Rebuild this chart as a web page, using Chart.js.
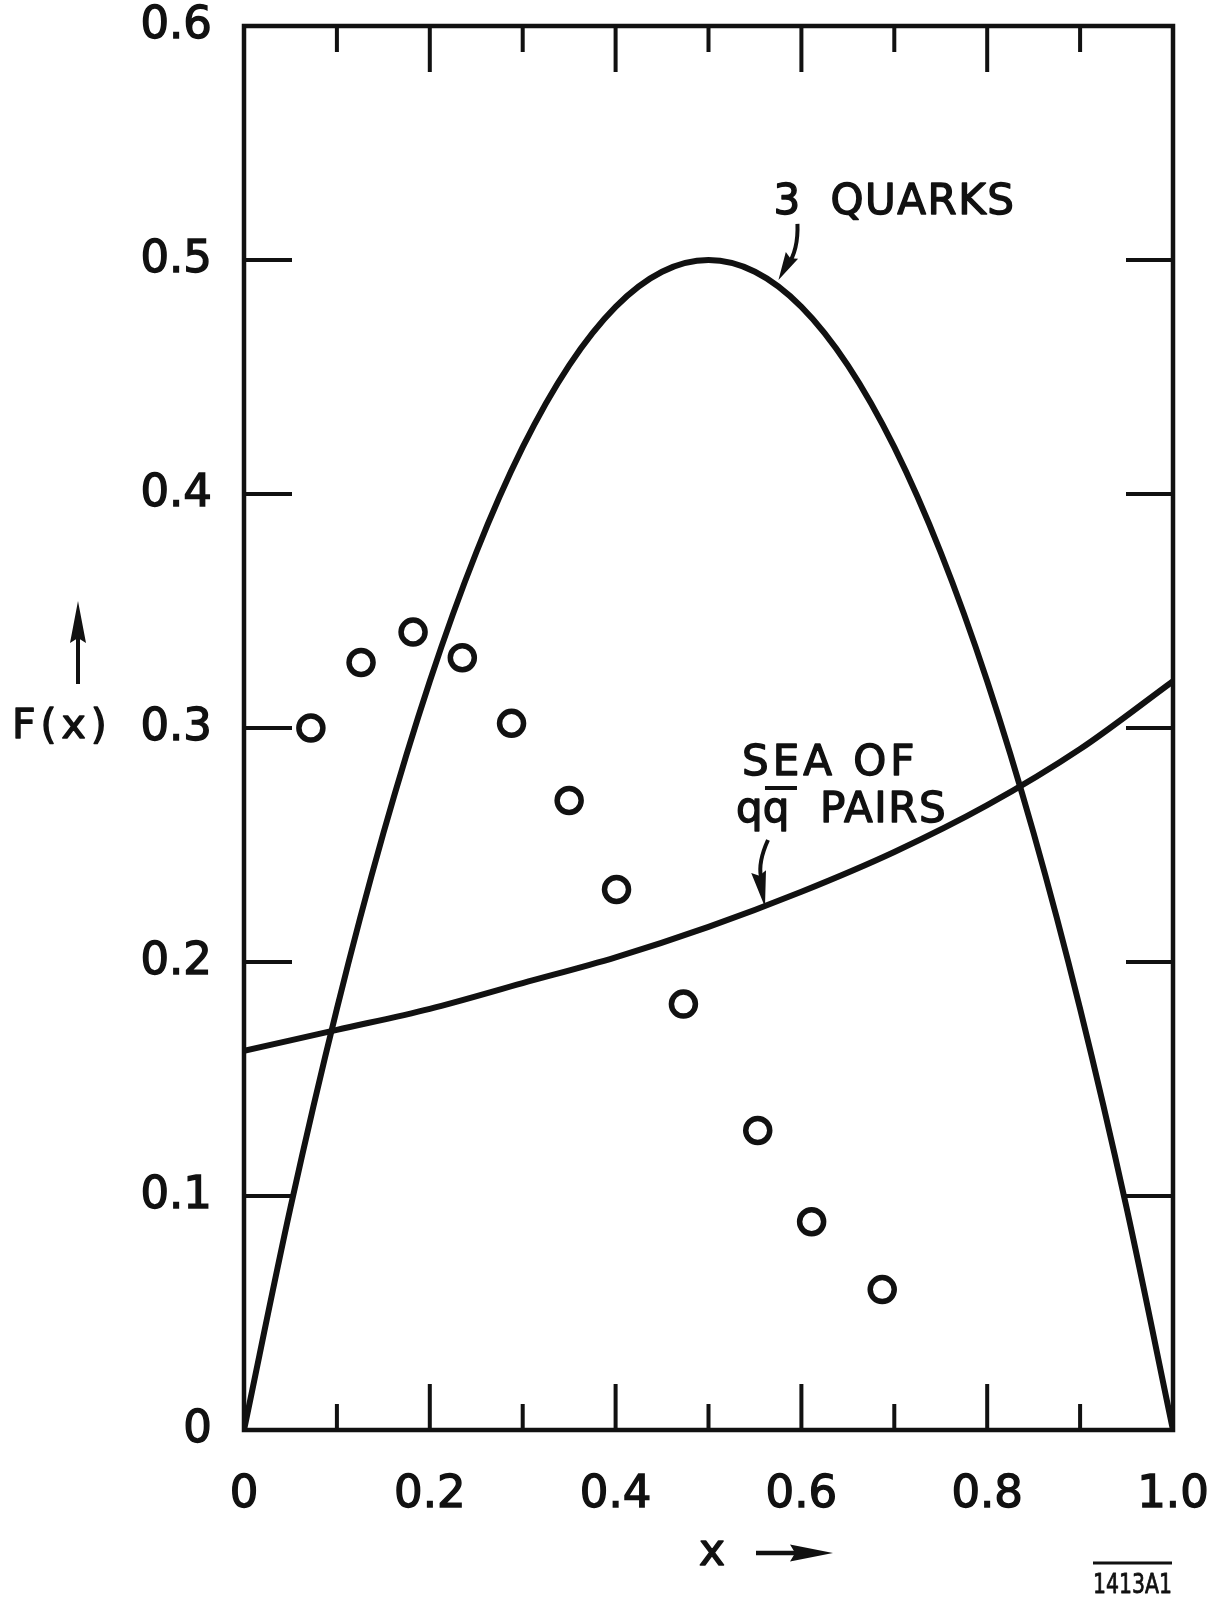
<!DOCTYPE html>
<html>
<head>
<meta charset="utf-8">
<title>F(x) — 3 quarks and sea of q q̄ pairs</title>
<script src="https://cdn.jsdelivr.net/npm/chart.js@4/dist/chart.umd.min.js"></script>
<style>
  html, body { margin: 0; padding: 0; background: #fff; }
  #wrap { width: 1225px; height: 1600px; position: relative; }
</style>
</head>
<body>
<div id="wrap"><canvas id="c" width="1225" height="1600"></canvas></div>
<script>
// Measured points
const dataX = [0.072, 0.126, 0.182, 0.235, 0.288, 0.350, 0.401, 0.473, 0.553, 0.611, 0.687];
const dataF = [0.300, 0.328, 0.341, 0.330, 0.302, 0.269, 0.231, 0.182, 0.128, 0.089, 0.060];

// "3 QUARKS" curve
const quarkX = [0, 0.05, 0.10, 0.15, 0.20, 0.25, 0.30, 0.35, 0.40, 0.45, 0.50,
                0.55, 0.60, 0.65, 0.70, 0.75, 0.80, 0.85, 0.90, 0.95, 1.0];
const quarkF = [0, 0.095, 0.180, 0.255, 0.320, 0.375, 0.420, 0.455, 0.480, 0.495, 0.500,
                0.495, 0.480, 0.455, 0.420, 0.375, 0.320, 0.255, 0.180, 0.095, 0];

// "SEA OF q q̄ PAIRS" curve
const seaX = [0, 0.1, 0.2, 0.3, 0.4, 0.5, 0.6, 0.7, 0.8, 0.9, 1.0];
const seaF = [0.162, 0.171, 0.180, 0.191, 0.202, 0.215, 0.230, 0.247, 0.267, 0.291, 0.320];

// Axis ticks
const xTickValues = [0, 0.2, 0.4, 0.6, 0.8, 1.0];
const xTickLabels = ['0', '0.2', '0.4', '0.6', '0.8', '1.0'];
const xMajorMarks = [0.2, 0.4, 0.6, 0.8];
const xMinorMarks = [0.1, 0.3, 0.5, 0.7, 0.9];
const yTickValues = [0, 0.1, 0.2, 0.3, 0.4, 0.5, 0.6];
const yTickLabels = ['0', '0.1', '0.2', '0.3', '0.4', '0.5', '0.6'];
const yMarks = [0.1, 0.2, 0.3, 0.4, 0.5];

const FONT = '"DejaVu Sans", "Liberation Sans", sans-serif';
const INK = '#111';

function pairs(xs, ys) { return xs.map((v, i) => ({ x: v, y: ys[i] })); }

function arrowHead(ctx, tx, ty, dx, dy, len, halfW) {
  const m = Math.hypot(dx, dy); dx /= m; dy /= m;
  const bx = tx - dx * len, by = ty - dy * len;
  ctx.beginPath();
  ctx.moveTo(tx, ty);
  ctx.lineTo(bx - dy * halfW, by + dx * halfW);
  ctx.lineTo(bx + dx * len * 0.12, by + dy * len * 0.12);
  ctx.lineTo(bx + dy * halfW, by - dx * halfW);
  ctx.closePath();
  ctx.fill();
}

// Heavier lettering: fill plus a thin outline
function ink(ctx, text, x, y) {
  ctx.fillText(text, x, y);
  ctx.strokeText(text, x, y);
}

// Frame and inward tick marks on all four sides
const framePlugin = {
  id: 'frame',
  beforeDatasetsDraw(chart) {
    const { ctx, chartArea: a, scales: { x, y } } = chart;
    ctx.save();
    ctx.strokeStyle = INK;
    ctx.lineWidth = 4.5;
    ctx.lineJoin = 'miter';
    ctx.strokeRect(a.left, a.top, a.right - a.left, a.bottom - a.top);
    ctx.lineWidth = 4;
    ctx.lineCap = 'butt';
    const vTick = (v, len) => {
      const px = x.getPixelForValue(v);
      ctx.beginPath();
      ctx.moveTo(px, a.bottom); ctx.lineTo(px, a.bottom - len);
      ctx.moveTo(px, a.top); ctx.lineTo(px, a.top + len);
      ctx.stroke();
    };
    xMajorMarks.forEach(v => vTick(v, 46));
    xMinorMarks.forEach(v => vTick(v, 26));
    yMarks.forEach(v => {
      const py = y.getPixelForValue(v);
      ctx.beginPath();
      ctx.moveTo(a.left, py); ctx.lineTo(a.left + 48, py);
      ctx.moveTo(a.right, py); ctx.lineTo(a.right - 47, py);
      ctx.stroke();
    });
    ctx.restore();
  }
};

// Axis titles, curve labels and pointer arrows
const notesPlugin = {
  id: 'notes',
  afterDraw(chart) {
    const { ctx, scales: { x, y } } = chart;
    const P = (vx, vy) => [x.getPixelForValue(vx), y.getPixelForValue(vy)];
    ctx.save();
    ctx.fillStyle = INK;
    ctx.strokeStyle = INK;
    ctx.textBaseline = 'alphabetic';
    ctx.textAlign = 'left';
    ctx.lineJoin = 'round';

    // y-axis title with upward arrow
    ctx.font = `41px ${FONT}`;
    ctx.lineWidth = 1.4;
    ctx.letterSpacing = '5px';
    ink(ctx, 'F(x)', 12, 738);
    ctx.letterSpacing = '0px';
    ctx.lineWidth = 4;
    ctx.beginPath(); ctx.moveTo(78, 684); ctx.lineTo(78, 630); ctx.stroke();
    arrowHead(ctx, 78, 601, 0, -1, 42, 8);

    // x-axis title with arrow
    ctx.font = `44px ${FONT}`;
    ctx.lineWidth = 1.4;
    ink(ctx, 'x', 699, 1565);
    ctx.lineWidth = 4.5;
    ctx.beginPath(); ctx.moveTo(756, 1553); ctx.lineTo(800, 1553); ctx.stroke();
    arrowHead(ctx, 833, 1553, 1, 0, 43, 8.5);

    // "3 QUARKS" label and curved pointer
    ctx.font = `42px ${FONT}`;
    ctx.lineWidth = 1.4;
    const [qx, qy] = P(0.5753, 0.4915);
    ink(ctx, '3', qx - 5, qy - 66);
    ctx.letterSpacing = '1.5px';
    ink(ctx, 'QUARKS', qx + 52, qy - 66);
    ctx.letterSpacing = '0px';
    ctx.lineWidth = 4;
    ctx.beginPath();
    ctx.moveTo(qx + 19, qy - 56);
    ctx.quadraticCurveTo(qx + 20, qy - 30, qx + 9, qy - 14);
    ctx.stroke();
    arrowHead(ctx, qx, qy, -0.55, 1, 28, 7);

    // "SEA OF q q̄ PAIRS" label and pointer
    const [sx, sy] = P(0.5608, 0.2235);
    ctx.font = `42px ${FONT}`;
    ctx.lineWidth = 1.4;
    ctx.letterSpacing = '4px';
    ink(ctx, 'SEA OF', sx - 23, sy - 132);
    ctx.letterSpacing = '0px';
    ink(ctx, 'qq', sx - 29, sy - 85);
    ctx.letterSpacing = '1.5px';
    ink(ctx, 'PAIRS', sx + 55, sy - 85);
    ctx.letterSpacing = '0px';
    ctx.lineWidth = 4;
    ctx.beginPath(); ctx.moveTo(sx, sy - 119); ctx.lineTo(sx + 32, sy - 119); ctx.stroke();
    ctx.beginPath();
    ctx.moveTo(sx + 3, sy - 67);
    ctx.quadraticCurveTo(sx - 7, sy - 45, sx - 4, sy - 30);
    ctx.stroke();
    arrowHead(ctx, sx, sy, 0.18, 1, 36, 7.5);

    // drawing number with overline
    ctx.font = `27px ${FONT}`;
    ctx.lineWidth = 0.8;
    const tag = '1413A1';
    const w = ctx.measureText(tag).width;
    ctx.save();
    ctx.translate(1093, 1593);
    ctx.scale(79 / w, 1);
    ink(ctx, tag, 0, 0);
    ctx.restore();
    ctx.lineWidth = 3;
    ctx.beginPath(); ctx.moveTo(1093, 1563); ctx.lineTo(1172, 1563); ctx.stroke();
    ctx.restore();
  }
};

new Chart(document.getElementById('c'), {
  type: 'scatter',
  data: {
    datasets: [
      {
        label: 'data',
        data: pairs(dataX, dataF),
        showLine: false,
        pointStyle: 'circle',
        pointRadius: 12,
        pointHoverRadius: 12,
        pointBorderWidth: 5.5,
        pointBorderColor: INK,
        pointBackgroundColor: 'rgba(255,255,255,0)',
        order: 0
      },
      {
        label: '3 QUARKS',
        data: pairs(quarkX, quarkF),
        showLine: true,
        borderColor: INK,
        borderWidth: 6,
        pointRadius: 0,
        cubicInterpolationMode: 'monotone',
        fill: false,
        order: 1
      },
      {
        label: 'SEA OF qq PAIRS',
        data: pairs(seaX, seaF),
        showLine: true,
        borderColor: INK,
        borderWidth: 6,
        pointRadius: 0,
        cubicInterpolationMode: 'monotone',
        fill: false,
        order: 2
      }
    ]
  },
  options: {
    responsive: false,
    animation: false,
    events: [],
    layout: { padding: { top: 26, right: 52, left: 0, bottom: 0 } },
    plugins: { legend: { display: false }, tooltip: { enabled: false } },
    scales: {
      x: {
        type: 'linear', position: 'bottom', min: 0, max: 1,
        afterBuildTicks: s => { s.ticks = xTickValues.map(v => ({ value: v })); },
        afterFit: s => { s.height = 170; s.paddingLeft = 0; s.paddingRight = 0; },
        grid: { display: false, drawTicks: false },
        border: { display: false },
        ticks: {
          padding: 38,
          color: INK,
          textStrokeColor: INK,
          textStrokeWidth: 1.4,
          maxRotation: 0,
          autoSkip: false,
          font: { family: FONT, size: 45, lineHeight: 1.2 },
          callback: (v, i) => xTickLabels[i]
        }
      },
      y: {
        type: 'linear', position: 'left', min: 0, max: 0.6,
        afterBuildTicks: s => { s.ticks = yTickValues.map(v => ({ value: v })); },
        afterFit: s => { s.width = 244; s.paddingTop = 0; s.paddingBottom = 0; },
        grid: { display: false, drawTicks: false },
        border: { display: false },
        ticks: {
          padding: 32,
          color: INK,
          textStrokeColor: INK,
          textStrokeWidth: 1.4,
          autoSkip: false,
          font: { family: FONT, size: 45, lineHeight: 1.0 },
          callback: (v, i) => yTickLabels[i]
        }
      }
    }
  },
  plugins: [framePlugin, notesPlugin]
});
</script>
</body>
</html>
